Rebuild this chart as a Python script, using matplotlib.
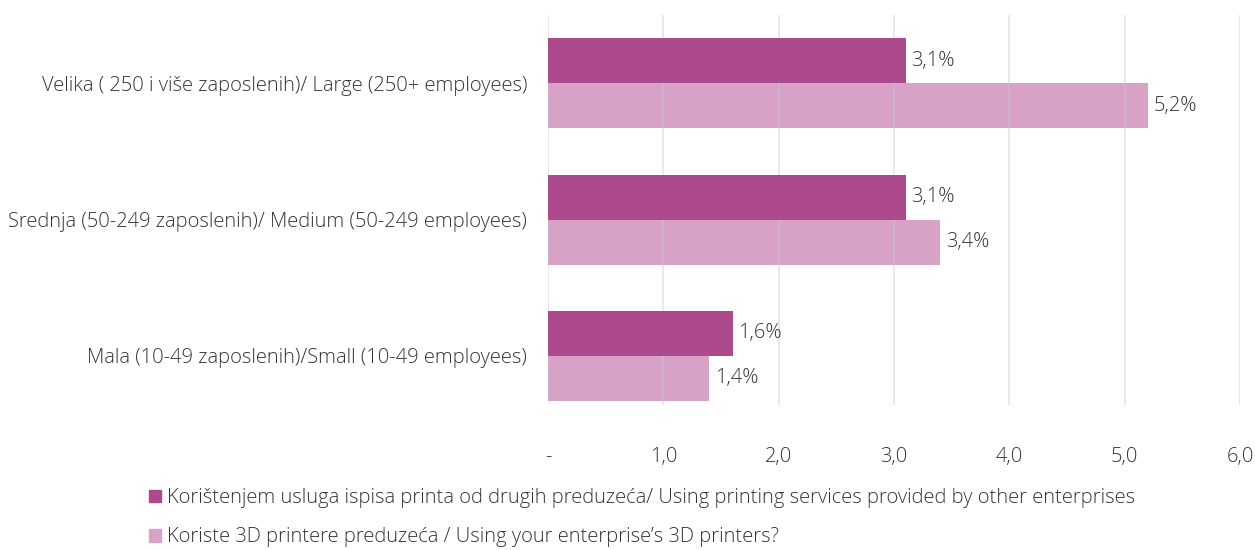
import matplotlib
matplotlib.use("Agg")
import matplotlib.pyplot as plt
from matplotlib.patches import Patch

categories = ["Mala (10-49 zaposlenih)/Small (10-49 employees)",
              "Srednja (50-249 zaposlenih)/ Medium (50-249 employees)",
              "Velika ( 250 i više zaposlenih)/ Large (250+ employees)"]
series_names = ["Korištenjem usluga ispisa printa od drugih preduzeća/ Using printing services provided by other enterprises",
                "Koriste 3D printere preduzeća / Using your enterprise\u2019s 3D printers?"]
services = [1.6, 3.1, 3.1]
own_printers = [1.4, 3.4, 5.2]
xticks = [0, 1, 2, 3, 4, 5, 6]
xtick_labels = ["-", "1,0", "2,0", "3,0", "4,0", "5,0", "6,0"]

dark = "#AD4A8E"
light = "#D7A2C6"
grid_c = "#C8C8D6"
txt = "#333333"

plt.rcParams['font.family'] = ['Open Sans', 'DejaVu Sans']
fw = 'light'
fs = 14.5

fig = plt.figure(figsize=(12.55, 5.5), dpi=100)
ax = fig.add_axes([548/1255, 1-405/550, (1240-548)/1255, 390/550])

h = 0.33
y = list(range(len(categories)))
ax.barh([v - h/2 for v in y], own_printers, height=h, color=light, zorder=1)
ax.vlines(xticks, -0.36, 2.5, color=grid_c, lw=1.2, alpha=0.5, zorder=2)
ax.barh([v + h/2 for v in y], services, height=h, color=dark, zorder=3)

for yi, v in zip(y, services):
    ax.text(v + 0.05, yi + h/2, f"{v:.1f}%".replace(".", ","), va='center', ha='left',
            fontsize=fs, color=txt, fontweight=fw)
for yi, v in zip(y, own_printers):
    ax.text(v + 0.05, yi - h/2, f"{v:.1f}%".replace(".", ","), va='center', ha='left',
            fontsize=fs, color=txt, fontweight=fw)

ax.set_xlim(0, 6)
ax.set_ylim(-0.36, 2.5)
ax.set_xticks(xticks)
ax.set_xticklabels(xtick_labels, fontsize=fs, color=txt, fontweight=fw)
ax.set_yticks(y)
ax.set_yticklabels(categories, fontsize=fs, color=txt, fontweight=fw)
ax.tick_params(axis='both', length=0)
ax.tick_params(axis='x', pad=30)
ax.tick_params(axis='y', pad=15)
for s in ax.spines.values():
    s.set_visible(False)

handles = [Patch(color=dark), Patch(color=light)]
fig.legend(handles, series_names, loc='upper left', bbox_to_anchor=(143/1255, 1-482/550),
           frameon=False, handlelength=0.6, handleheight=0.6,
           handletextpad=0.3, labelspacing=0.95, borderaxespad=0, borderpad=0.3,
           prop={'weight': fw, 'size': fs})
for t in fig.legends[0].get_texts():
    t.set_color(txt)

fig.savefig("out.png", dpi=100)
